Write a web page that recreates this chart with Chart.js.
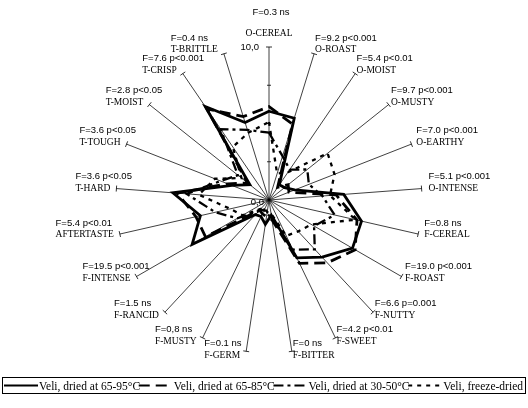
<!DOCTYPE html>
<html>
<head>
<meta charset="utf-8">
<title>Sensory profile</title>
<script src="https://cdn.jsdelivr.net/npm/chart.js@4.4.1/dist/chart.umd.min.js"></script>
<style>
  html, body { margin: 0; padding: 0; background: #fff; }
  #wrap { width: 528px; height: 408px; position: relative; }
</style>
</head>
<body>
<div id="wrap"><canvas id="profileChart"></canvas></div>
<script>
// attributes, clockwise from the top
const attributes = ['O-CEREAL', 'O-ROAST', 'O-MOIST', 'O-MUSTY', 'O-EARTHY', 'O-INTENSE',
    'F-CEREAL', 'F-ROAST', 'F-NUTTY', 'F-SWEET', 'F-BITTER', 'F-GERM', 'F-MUSTY', 'F-RANCID',
    'F-INTENSE', 'AFTERTASTE', 'T-HARD', 'T-TOUGH', 'T-MOIST', 'T-CRISP', 'T-BRITTLE'];

// ANOVA result printed above each attribute
const fStats = ['F=0.3 ns', 'F=9.2 p<0.001', 'F=5.4 p<0.01', 'F=9.7 p<0.001', 'F=7.0 p<0.001',
    'F=5.1 p<0.001', 'F=0.8 ns', 'F=19.0 p<0.001', 'F=6.6 p=0.001', 'F=4.2 p<0.01', 'F=0 ns',
    'F=0.1 ns', 'F=0,8 ns', 'F=1.5 ns', 'F=19.5 p<0.001', 'F=5.4 p<0.01', 'F=3.6 p<0.05',
    'F=3.6 p<0.05', 'F=2.8 p<0.05', 'F=7.6 p<0.001', 'F=0.4 ns'];

const seriesNames = ['Veli, dried at 65-95°C', 'Veli, dried at 65-85°C',
    'Veli, dried at 30-50°C', 'Veli, freeze-dried'];

const dried6595 = [5.8, 5.6, 1.2, 1.3, 1.8, 4.9, 6.2, 6.3, 5.1, 4.2, 1.0,
    1.6, 1.2, 1.3, 5.8, 4.6, 6.3, 2.6, 1.6, 7.4, 5.3];
const dried6585 = [6.1, 5.2, 1.0, 1.6, 1.4, 4.4, 5.9, 6.5, 5.6, 4.6, 1.3,
    1.1, 1.0, 0.9, 4.8, 4.9, 6.0, 2.9, 1.8, 7.2, 5.7];
const dried3050 = [4.4, 3.0, 2.4, 3.2, 2.8, 3.5, 4.4, 3.4, 4.4, 3.6, 1.2,
    0.9, 0.7, 1.0, 2.4, 3.6, 5.4, 3.4, 2.6, 5.6, 4.8];
const freezeDried = [5.1, 1.8, 2.2, 4.9, 4.6, 4.0, 5.8, 3.2, 2.8, 2.6, 0.9,
    0.8, 0.6, 0.8, 2.0, 2.6, 4.6, 3.8, 2.3, 4.2, 4.6];

const scaleMin = 0;
const scaleMax = 10;
const scaleLabels = ['0,0', '10,0'];

const SANS = '"Liberation Sans", Arial, sans-serif';
const SERIF = '"Liberation Serif", "Times New Roman", serif';

// axis labels, end ticks and the 0,0 / 10,0 marks
const axisDecor = {
    id: 'axisDecor',
    beforeDatasetsDraw(chart) {
        const r = chart.scales.r;
        const ctx = chart.ctx;
        ctx.save();
        ctx.strokeStyle = '#000';
        ctx.lineWidth = 0.8;
        attributes.forEach((a, i) => {
            const p = r.getPointPosition(i, r.drawingArea);
            const ang = p.angle;
            // small cross tick at the end of every axis
            const tx = -Math.sin(ang) * 3, ty = Math.cos(ang) * 3;
            ctx.beginPath();
            ctx.moveTo(p.x - tx, p.y - ty);
            ctx.lineTo(p.x + tx, p.y + ty);
            ctx.stroke();
        });
        // minor ticks on the first axis
        for (let v = 2.5; v < scaleMax; v += 2.5) {
            const p = r.getPointPositionForValue(0, v);
            ctx.beginPath();
            ctx.moveTo(p.x - 2, p.y);
            ctx.lineTo(p.x + 2, p.y);
            ctx.stroke();
        }
        ctx.restore();
    },
    afterDraw(chart) {
        const r = chart.scales.r;
        const ctx = chart.ctx;
        ctx.save();
        ctx.fillStyle = '#000';
        ctx.textBaseline = 'middle';
        attributes.forEach((a, i) => {
            const p = r.getPointPosition(i, r.drawingArea);
            const theta = i / attributes.length * Math.PI * 2;
            const catFont = '9.5px ' + SERIF;
            const statFont = '9.5px ' + SANS;
            if (i === 0) {
                ctx.textAlign = 'center';
                ctx.font = catFont;
                ctx.fillText(a, p.x, p.y - 14);
                ctx.font = statFont;
                ctx.fillText(fStats[i], p.x + 2, p.y - 35);
                return;
            }
            const cy = p.y - 4 * Math.cos(theta);
            ctx.textAlign = 'left';
            ctx.font = catFont;
            let x0;
            if (Math.sin(theta) > 0) {
                x0 = p.x + 1 + 6 * Math.pow(Math.sin(theta), 6);
            } else {
                x0 = p.x - 6 - ctx.measureText(a).width;
            }
            ctx.fillText(a, x0, cy);
            ctx.font = statFont;
            ctx.fillText(fStats[i], x0, cy - 12);
        });
        // scale end values
        ctx.font = '9.5px ' + SANS;
        ctx.textAlign = 'right';
        const top = r.getPointPositionForValue(0, scaleMax);
        ctx.fillText(scaleLabels[1], top.x - 10, top.y);
        ctx.fillText(scaleLabels[0], r.xCenter - 5, r.yCenter + 2);
        ctx.restore();
    }
};

// boxed legend across the bottom
const boxLegend = {
    id: 'boxLegend',
    afterDraw(chart) {
        const ctx = chart.ctx;
        const bx = 2, by = 377, bw = 523, bh = 16;
        ctx.save();
        ctx.strokeStyle = '#000';
        ctx.lineWidth = 1;
        ctx.strokeRect(bx + 0.5, by + 0.5, bw, bh);
        ctx.font = '11.5px ' + SERIF;
        ctx.fillStyle = '#000';
        ctx.textBaseline = 'middle';
        ctx.textAlign = 'left';
        const sets = chart.data.datasets;
        const widths = sets.map(ds => ctx.measureText(ds.label).width);
        const lineLen = 34, afterLine = 1;
        const used = widths.reduce((s, w) => s + w, 0) + sets.length * (lineLen + afterLine);
        const gap = (bw - 4 - used) / (sets.length - 1);
        const ym = by + bh / 2 + 0.5;
        let x = bx + 2;
        sets.forEach((ds, i) => {
            ctx.lineWidth = 2;
            ctx.setLineDash(ds.borderDash || []);
            ctx.beginPath();
            ctx.moveTo(x, ym);
            ctx.lineTo(x + lineLen, ym);
            ctx.stroke();
            ctx.setLineDash([]);
            ctx.fillText(ds.label, x + lineLen + afterLine, ym + 1);
            x += lineLen + afterLine + widths[i] + gap;
        });
        ctx.restore();
    }
};

const ctx = document.getElementById('profileChart');
new Chart(ctx, {
    type: 'radar',
    data: {
        labels: attributes,
        datasets: [
            { label: seriesNames[0], data: dried6595, borderColor: '#000', borderWidth: 2.8, borderDash: [] },
            { label: seriesNames[1], data: dried6585, borderColor: '#000', borderWidth: 2.8, borderDash: [11, 6] },
            { label: seriesNames[2], data: dried3050, borderColor: '#000', borderWidth: 2.3, borderDash: [10, 4, 3, 4] },
            { label: seriesNames[3], data: freezeDried, borderColor: '#000', borderWidth: 2.3, borderDash: [4, 5] }
        ]
    },
    options: {
        responsive: true,
        maintainAspectRatio: false,
        animation: false,
        layout: { padding: { left: 116, right: 106, top: 47, bottom: 55 } },
        elements: {
            line: { fill: false, tension: 0, backgroundColor: 'transparent' },
            point: { radius: 0, hoverRadius: 0 }
        },
        plugins: {
            legend: { display: false },
            tooltip: { enabled: false }
        },
        scales: {
            r: {
                min: scaleMin,
                max: scaleMax,
                grid: { display: false },
                angleLines: { display: true, color: '#000', lineWidth: 0.75 },
                ticks: { display: false },
                pointLabels: { display: false }
            }
        }
    },
    plugins: [axisDecor, boxLegend]
});
</script>
</body>
</html>
